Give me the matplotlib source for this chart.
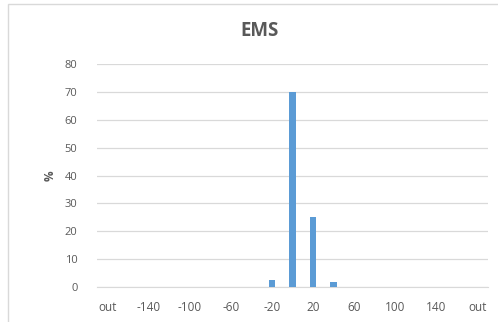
import matplotlib
matplotlib.use("Agg")
import matplotlib.pyplot as plt
from matplotlib.patches import Rectangle

categories = ["out", "-160", "-140", "-120", "-100", "-80", "-60", "-40", "-20", "0",
              "20", "40", "60", "80", "100", "120", "140", "160", "out"]
values = [0, 0, 0, 0, 0, 0, 0, 0, 2.4, 70, 25, 1.7, 0, 0, 0, 0, 0, 0, 0]
yticks = [0, 10, 20, 30, 40, 50, 60, 70, 80]

plt.rcParams['font.family'] = ['Open Sans', 'DejaVu Sans']
gray = '#595959'

fig = plt.figure(figsize=(4.98, 3.22), dpi=100)
fig.patches.append(Rectangle((8/498, -0.1), 1.2, 1 - 4/322 + 0.1, transform=fig.transFigure,
                             fill=False, edgecolor='#D9D9D9', linewidth=1.0))
ax = fig.add_axes([97/498, 1 - 287/322, 391/498, 223/322])

x = list(range(len(categories)))
ax.bar(x, values, width=0.33, color='#5B9BD5', zorder=3)

ax.set_xlim(-0.5, len(categories) - 0.5)
ax.set_ylim(0, 80)
ax.set_yticks(yticks)
ax.set_yticklabels([str(v) for v in yticks], color=gray, fontsize=8)
ax.set_xticks(x[::2])
ax.set_xticklabels(categories[::2], color=gray, fontsize=8.5)
ax.tick_params(axis='y', length=0, pad=14)
ax.tick_params(axis='x', length=0, pad=10)
ax.grid(axis='y', color='#D9D9D9', linewidth=0.9, zorder=0)
for s in ['top', 'right', 'left']:
    ax.spines[s].set_visible(False)
ax.spines['bottom'].set_color('#D9D9D9')
ax.set_axisbelow(True)

ax.set_ylabel('%', color=gray, fontsize=8.5, fontweight='bold', labelpad=6)
fig.text(260/498, 1 - 31/322, 'EMS', ha='center', va='center', fontsize=13.5,
         fontweight='bold', color=gray)

fig.savefig('out.png', dpi=100)
